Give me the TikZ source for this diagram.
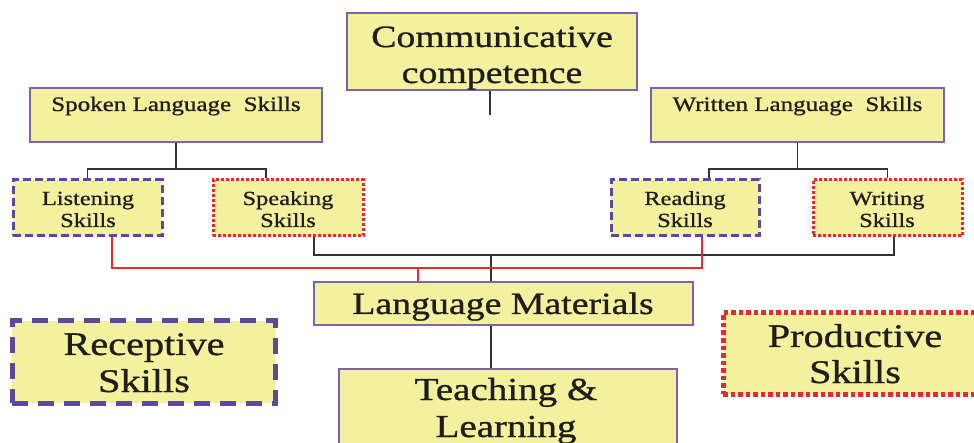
\documentclass[tikz,border=0pt]{standalone}
\usepackage{fontspec}
\setmainfont[FakeStretch=1.22,FakeBold=0.9]{Liberation Serif}
\definecolor{boxfill}{HTML}{F3F09E}
\definecolor{boxedge}{HTML}{7B62B5}
\definecolor{recblue}{HTML}{5A4A9E}
\definecolor{prodred}{HTML}{E82A2A}
\definecolor{linkgray}{HTML}{333333}
\definecolor{inkdark}{HTML}{1E1E1E}
\tikzset{
  box/.style={draw=boxedge, line width=1.3pt, fill=boxfill, rectangle, inner sep=0pt},
  recbox/.style={draw=recblue, line width=3pt, fill=boxfill, rectangle, inner sep=0pt,
    dash pattern=on 8pt off 4pt},
  prodbox/.style={draw=prodred, line width=3pt, fill=boxfill, rectangle, inner sep=0pt,
    dash pattern=on 3pt off 2pt},
  bigrec/.style={recbox, line width=5pt, dash pattern=on 16pt off 10pt},
  bigprod/.style={prodbox, line width=5pt, dash pattern=on 4.5pt off 3pt},
  txt/.style={anchor=base, inner sep=0pt, text=inkdark},
  conn/.style={draw=linkgray, line width=1.8pt},
  thinconn/.style={draw=linkgray, line width=1.3pt},
  redconn/.style={draw=prodred, line width=1.4pt},
}
\begin{document}
\begin{tikzpicture}[x=1pt,y=-1pt]
\useasboundingbox (0,0) rectangle (974,443);
\clip (0,0) rectangle (974,443);

\coordinate (commEnd) at (490,115);

% --- boxes ---
\node[box, minimum width=290pt, minimum height=77pt] (comm) at (492,51.5) {};
\node[box, minimum width=292pt, minimum height=54pt] (spoken) at (176,115) {};
\node[box, minimum width=293pt, minimum height=54pt] (written) at (797.5,115) {};
\node[recbox, minimum width=149pt, minimum height=56pt] (listen) at (87.5,208) {};
\node[prodbox, minimum width=150pt, minimum height=56pt] (speak) at (288,208) {};
\node[recbox, minimum width=148pt, minimum height=56pt] (read) at (685,208) {};
\node[prodbox, minimum width=149pt, minimum height=56pt] (writ) at (887.5,208) {};
\node[box, minimum width=379pt, minimum height=43pt] (lm) at (503.5,303.5) {};
\node[box, minimum width=338pt, minimum height=100pt] (teach) at (508,419) {};
\node[bigrec, minimum width=263pt, minimum height=82pt] (recep) at (143.5,362) {};
\node[bigprod, minimum width=262pt, minimum height=81pt] (prod) at (854,353.5) {};

% --- tree links ---
\draw[conn] (comm.south -| commEnd) -- (commEnd);

\draw[conn] (spoken.south) -- ++(0,26) coordinate (spJ);
\draw[conn] (listen.north) |- (spJ) -| ([xshift=-22pt]speak.north);

\draw[conn] (written.south) -- ++(0,26) coordinate (wrJ);
\draw[conn] ([xshift=24pt]read.north) |- (wrJ) -| (writ.north);

% productive skills join
\coordinate (prodJ) at (491,255);
\draw[conn] ([xshift=26pt]speak.south) |- (prodJ);
\draw[conn] ([xshift=6.5pt]writ.south) |- (prodJ);
\draw[thinconn] (prodJ) -- (lm.north -| prodJ);

% receptive skills join
\coordinate (recJ) at (418,268);
\draw[redconn] ([xshift=24.5pt]listen.south) |- (recJ);
\draw[redconn] ([xshift=17pt]read.south) |- (recJ);
\draw[redconn] (recJ) -- (lm.north -| recJ);

\draw[thinconn] (lm.south -| prodJ) -- (teach.north -| prodJ);

% --- labels ---
\node[txt, font=\fontsize{31}{36}\selectfont] (commA) at (492,47) {Communicative};
\node[txt, font=\fontsize{31}{36}\selectfont] (commB) at (492,83) {competence};
\node[txt, font=\fontsize{20.5}{24}\selectfont] (spokenT) at (176,111) {Spoken Language\ \ Skills};
\node[txt, font=\fontsize{20.5}{24}\selectfont] (writtenT) at (797.5,111) {Written Language\ \ Skills};
\node[txt, font=\fontsize{20}{24}\selectfont] (listenA) at (88,205) {Listening};
\node[txt, font=\fontsize{20}{24}\selectfont] (listenB) at (88,227) {Skills};
\node[txt, font=\fontsize{20}{24}\selectfont] (speakA) at (288,205) {Speaking};
\node[txt, font=\fontsize{20}{24}\selectfont] (speakB) at (288,227) {Skills};
\node[txt, font=\fontsize{20}{24}\selectfont] (readA) at (685,205) {Reading};
\node[txt, font=\fontsize{20}{24}\selectfont] (readB) at (685,227) {Skills};
\node[txt, font=\fontsize{20}{24}\selectfont] (writA) at (887,205) {Writing};
\node[txt, font=\fontsize{20}{24}\selectfont] (writB) at (887,227) {Skills};
\node[txt, font=\fontsize{31}{36}\selectfont] (lmT) at (503,314) {Language Materials};
\node[txt, font=\fontsize{32}{37}\selectfont] (teachA) at (506,400) {Teaching \&};
\node[txt, font=\fontsize{32}{37}\selectfont] (teachB) at (506,437) {Learning};
\node[txt, font=\fontsize{33}{37}\selectfont] (recepA) at (144,355) {Receptive};
\node[txt, font=\fontsize{33}{37}\selectfont] (recepB) at (144,392) {Skills};
\node[txt, font=\fontsize{33}{37}\selectfont] (prodA) at (855,347) {Productive};
\node[txt, font=\fontsize{33}{37}\selectfont] (prodB) at (855,383) {Skills};
\end{tikzpicture}
\end{document}
